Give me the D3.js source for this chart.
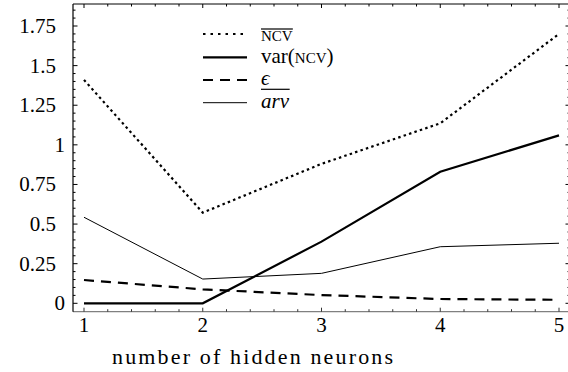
<!DOCTYPE html>
<html>
<head>
<meta charset="utf-8">
<script src="https://cdn.jsdelivr.net/npm/d3@7"></script>
<style>
  body { margin: 0; background: #fff; }
  svg { display: block; }
</style>
</head>
<body>
<div id="chart"></div>
<script>
// data
const neurons = [1, 2, 3, 4, 5]
const ncvMean = [1.41, 0.572, 0.88, 1.136, 1.70]
const ncvVar = [0.0, 0.0, 0.389, 0.83, 1.06]
const epsilon = [0.147, 0.088, 0.052, 0.027, 0.022]
const arvMean = [0.543, 0.153, 0.189, 0.357, 0.379]
const yTicks = [0, 0.25, 0.5, 0.75, 1, 1.25, 1.5, 1.75]
const yTickLabels = ['0', '0.25', '0.5', '0.75', '1', '1.25', '1.5', '1.75']
const xTitle = 'number of hidden neurons'

const width = 568, height = 372
const plot = { left: 73, right: 570, top: 4, bottom: 311.7 }

// pick the first serif face that is really installed
const ctx = document.createElement('canvas').getContext('2d')
function has(name) {
  const s = 'number of hidden neurons 0.75'
  return ['monospace', 'sans-serif'].every(fb => {
    ctx.font = '20px ' + fb
    const a = ctx.measureText(s).width
    ctx.font = '20px "' + name + '", ' + fb
    return Math.abs(ctx.measureText(s).width - a) > 0.5
  })
}
const candidates = ['Liberation Serif', 'DejaVu Serif', 'Noto Serif', 'Times New Roman', 'FreeSerif', 'Tinos']
const found = candidates.find(has)
const serif = found ? '"' + found + '", serif' : 'serif'

const svg = d3.select('#chart').append('svg')
  .attr('width', width)
  .attr('height', height)
  .style('font-family', serif)

// scales
const x = d3.scaleLinear().domain([1, 5]).range([84, 559])
const y = d3.scaleLinear().domain([0, 1.75]).range([303.3, 26])
const xMax = x.invert(plot.right)
const yMax = y.invert(plot.top)

const minorX = d3.range(0, 21).map(i => 1 + i * 0.2).filter(d => d <= xMax)
const minorY = d3.range(0, 38).map(i => i * 0.05).filter(d => d <= yMax)
const isMajorX = d => Math.abs(d - Math.round(d)) < 1e-6

// bottom axis (grey)
const axBottom = svg.append('g')
axBottom.append('line')
  .attr('x1', plot.left).attr('x2', plot.right)
  .attr('y1', plot.bottom).attr('y2', plot.bottom)
  .attr('stroke', '#808080').attr('stroke-width', 1.3)
axBottom.selectAll('line.tick')
  .data(minorX)
  .enter().append('line')
  .attr('class', 'tick')
  .attr('x1', d => x(d)).attr('x2', d => x(d))
  .attr('y1', plot.bottom)
  .attr('y2', d => isMajorX(d) ? plot.bottom - 4 : plot.bottom - 2.5)
  .attr('stroke', '#333').attr('stroke-width', 1)
axBottom.selectAll('text')
  .data(neurons)
  .enter().append('text')
  .attr('x', d => x(d))
  .attr('y', 332)
  .attr('text-anchor', 'middle')
  .style('font-size', '21px')
  .text(d => d)

// top axis
const axTop = svg.append('g')
axTop.append('line')
  .attr('x1', plot.left).attr('x2', plot.right)
  .attr('y1', plot.top).attr('y2', plot.top)
  .attr('stroke', '#000').attr('stroke-width', 1)
axTop.selectAll('line.tick')
  .data(minorX)
  .enter().append('line')
  .attr('class', 'tick')
  .attr('x1', d => x(d)).attr('x2', d => x(d))
  .attr('y1', plot.top)
  .attr('y2', d => isMajorX(d) ? plot.top + 4 : plot.top + 2.5)
  .attr('stroke', '#000').attr('stroke-width', 1)

// left axis
const axLeft = svg.append('g')
axLeft.append('line')
  .attr('x1', plot.left).attr('x2', plot.left)
  .attr('y1', plot.top).attr('y2', plot.bottom)
  .attr('stroke', '#000').attr('stroke-width', 1.2)
axLeft.selectAll('line.tick')
  .data(minorY)
  .enter().append('line')
  .attr('class', 'tick')
  .attr('y1', d => y(d)).attr('y2', d => y(d))
  .attr('x1', plot.left)
  .attr('x2', (d, i) => i % 5 === 0 ? plot.left + 4.5 : plot.left + 2.5)
  .attr('stroke', '#000').attr('stroke-width', 1)
axLeft.selectAll('text')
  .data(yTicks)
  .enter().append('text')
  .attr('x', d => Number.isInteger(d) ? 65 : 56)
  .attr('y', d => y(d) + 7)
  .attr('text-anchor', 'end')
  .style('font-size', '21px')
  .text((d, i) => yTickLabels[i])

// right axis ticks (frame sits just past the edge)
svg.append('g').selectAll('line')
  .data(minorY)
  .enter().append('line')
  .attr('y1', d => y(d)).attr('y2', d => y(d))
  .attr('x1', plot.right)
  .attr('x2', (d, i) => i % 5 === 0 ? plot.right - 4.5 : plot.right - 2.5)
  .attr('stroke', '#000').attr('stroke-width', 1)

// axis title
svg.append('text')
  .attr('x', 112)
  .attr('y', 364)
  .attr('textLength', 281)
  .attr('lengthAdjust', 'spacing')
  .style('font-size', '22px')
  .text(xTitle)

// series
const series = [
  { values: ncvMean, width: 2.2, dash: '2.5,3.2' },
  { values: ncvVar, width: 2.2, dash: null },
  { values: epsilon, width: 2.2, dash: '10,7' },
  { values: arvMean, width: 1, dash: null }
]
const line = d3.line()
  .x((d, i) => x(neurons[i]))
  .y(d => y(d))

svg.append('g').selectAll('path')
  .data(series)
  .enter().append('path')
  .attr('d', d => line(d.values))
  .attr('fill', 'none')
  .attr('stroke', '#000')
  .attr('stroke-width', d => d.width)
  .attr('stroke-dasharray', d => d.dash)

// legend
const legendRows = [34, 57.3, 80, 102.7]
const legend = svg.append('g')
legend.selectAll('line')
  .data(series)
  .enter().append('line')
  .attr('x1', 203).attr('x2', 247)
  .attr('y1', (d, i) => legendRows[i]).attr('y2', (d, i) => legendRows[i])
  .attr('stroke', '#000')
  .attr('stroke-width', d => d.width)
  .attr('stroke-dasharray', (d, i) => i === 0 ? '2.5,5' : d.dash)

const t1 = legend.append('text').attr('x', 261).attr('y', legendRows[0] + 6.5)
  .style('font-size', '15px').text('NCV')
const t2 = legend.append('text').attr('x', 261).attr('y', legendRows[1] + 5.5)
  .style('font-size', '21px')
t2.append('tspan').text('var(')
t2.append('tspan').style('font-size', '15px').text('NCV')
t2.append('tspan').text(')')
legend.append('text').attr('x', 261).attr('y', legendRows[2] + 5)
  .style('font-size', '21px').style('font-style', 'italic').text('ϵ')
const t4 = legend.append('text').attr('x', 261).attr('y', legendRows[3] + 5)
  .style('font-size', '21px').style('font-style', 'italic').text('arv')

// overlines
;[[t1, 29], [t4, 89.3]].forEach(([t, yy]) => {
  const b = t.node().getBBox()
  legend.append('line')
    .attr('x1', b.x).attr('x2', b.x + b.width)
    .attr('y1', yy).attr('y2', yy)
    .attr('stroke', '#000').attr('stroke-width', 1.2)
})
</script>
</body>
</html>
